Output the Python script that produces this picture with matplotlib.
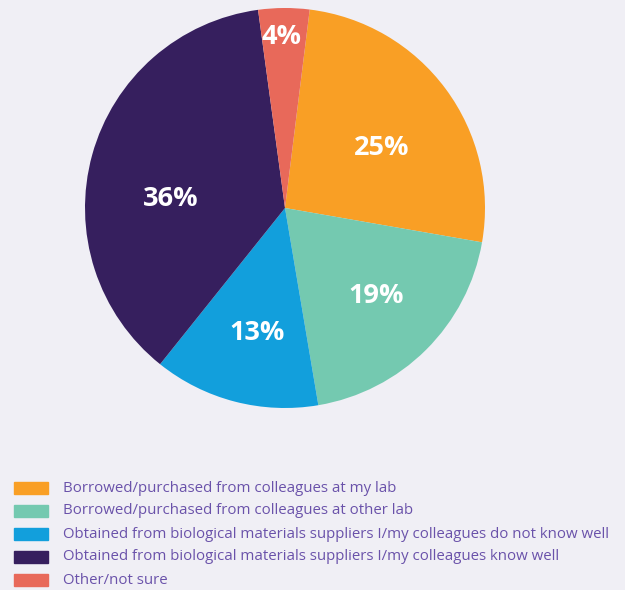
import matplotlib

matplotlib.use("Agg")

import matplotlib.pyplot as plt
from matplotlib.patches import Rectangle

categories = [
    "Borrowed/purchased from colleagues at my lab",
    "Borrowed/purchased from colleagues at other lab",
    "Obtained from biological materials suppliers I/my colleagues do not know well",
    "Obtained from biological materials suppliers I/my colleagues know well",
    "Other/not sure",
]
shares = [25, 19, 13, 36, 4]
colors = ["#f99f25", "#74c9b0", "#129fdc", "#361f5e", "#e8695a"]
# where each percentage label sits, in pie-radius units
label_xy = [(0.485, 0.30), (0.455, -0.44), (-0.14, -0.625), (-0.57, 0.045),
            (-0.02, 0.855)]

BG = "#f0eff5"
TXT = "#6a52aa"
W, H = 625, 590

fig = plt.figure(figsize=(W / 100, H / 100), dpi=100, facecolor=BG)
cx, cy, r = 285, 208, 200
ax = fig.add_axes([(cx - r) / W, 1 - (cy + r) / H, 2 * r / W, 2 * r / H])
ax.set_facecolor(BG)
wedges, _ = ax.pie(shares, colors=colors, startangle=82.9, counterclock=False,
                   wedgeprops=dict(linewidth=0))
ax.set_xlim(-1, 1)
ax.set_ylim(-1, 1)
ax.set_aspect("equal")
ax.axis("off")

for s, (lx, ly) in zip(shares, label_xy):
    ax.text(lx, ly, f"{s}%", ha="center", va="center", color="white",
            fontsize=19.5, fontweight="bold", family="Open Sans")

# legend drawn by hand
for i, (lab, c) in enumerate(zip(categories, colors)):
    y = 488 + 23 * i
    fig.patches.append(Rectangle((14 / W, 1 - (y + 6) / H), 34 / W, 12 / H,
                                 transform=fig.transFigure, color=c))
    fig.text(63 / W, 1 - y / H, lab, ha="left", va="center", color=TXT,
             fontsize=10.85, family="Open Sans")

fig.savefig("out.png", dpi=100, facecolor=BG)
